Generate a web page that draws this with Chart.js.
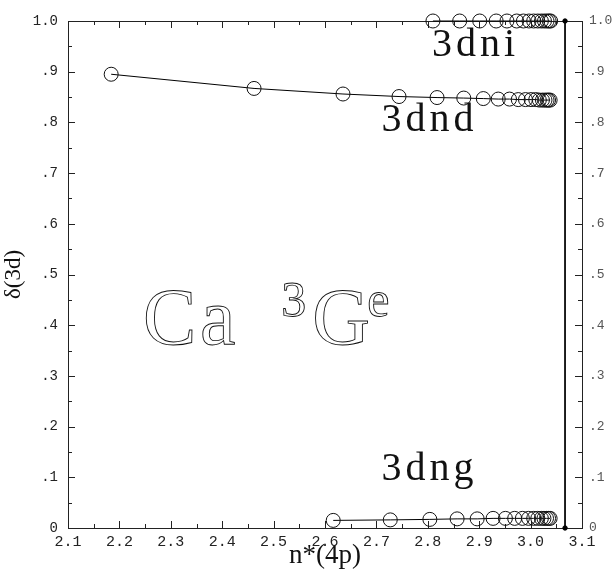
<!DOCTYPE html>
<html><head><meta charset="utf-8">
<script src="https://cdn.jsdelivr.net/npm/chart.js@4"></script>
<style>html,body{margin:0;padding:0;background:#fff}canvas{display:block}</style>
</head><body>
<canvas id="c" width="613" height="572"></canvas>
<script>
// ---- data ----
const niX = [2.810, 2.862, 2.901, 2.933, 2.954, 2.973, 2.986, 2.997, 3.006, 3.014, 3.021, 3.027, 3.032, 3.036, 3.039];
const niY = [1.0, 1.0, 1.0, 1.0, 1.0, 1.0, 1.0, 1.0, 1.0, 1.0, 1.0, 1.0, 1.0, 1.0, 1.0];
const ndX = [2.184, 2.462, 2.635, 2.744, 2.818, 2.870, 2.908, 2.937, 2.959, 2.976, 2.990, 3.001, 3.010, 3.017, 3.023, 3.028, 3.032, 3.035, 3.038];
const ndY = [0.895, 0.867, 0.856, 0.851, 0.849, 0.848, 0.847, 0.846, 0.846, 0.845, 0.845, 0.845, 0.845, 0.844, 0.844, 0.844, 0.844, 0.844, 0.844];
const ngX = [2.616, 2.727, 2.804, 2.857, 2.896, 2.927, 2.951, 2.969, 2.984, 2.996, 3.006, 3.014, 3.021, 3.026, 3.031, 3.035, 3.038];
const ngY = [0.015, 0.016, 0.017, 0.018, 0.018, 0.019, 0.019, 0.019, 0.019, 0.019, 0.019, 0.019, 0.019, 0.019, 0.019, 0.019, 0.019];
const limitX = [3.067, 3.067];
const limitY = [1.0, 0.0];
const xTicks = [2.1, 2.2, 2.3, 2.4, 2.5, 2.6, 2.7, 2.8, 2.9, 3.0, 3.1];
const yTickLabels = ['0', '.1', '.2', '.3', '.4', '.5', '.6', '.7', '.8', '.9', '1.0'];
const seriesNames = ['3dni', '3dnd', '3dng'];
// label anchors (data units): [x, baseline y]
const labelPos = [[2.808, 0.930], [2.710, 0.783], [2.710, 0.095]];
const xTitle = 'n*(4p)';
const yTitle = 'δ(3d)';

const pts = (xs, ys) => xs.map((x, i) => ({x, y: ys[i]}));
const circleSet = (name, xs, ys) => ({
  label: name, data: pts(xs, ys), showLine: true, clip: false,
  borderColor: '#000', borderWidth: 1,
  pointRadius: 7, pointHoverRadius: 7, pointStyle: 'circle',
  pointBackgroundColor: 'rgba(0,0,0,0)', pointBorderColor: '#111', pointBorderWidth: 1
});

const framePlugin = {
  id: 'frame',
  beforeDatasetsDraw(chart) {
    const {ctx, chartArea: a, scales: {x, y}} = chart;
    ctx.save();
    ctx.strokeStyle = '#222'; ctx.lineWidth = 1;
    ctx.strokeRect(a.left + 0.5, a.top + 0.5, a.right - a.left, a.bottom - a.top);
    ctx.beginPath();
    for (let i = 0; i <= 20; i++) {
      const v = i * 0.05, len = i % 2 ? 4 : 7;
      const py = Math.round(y.getPixelForValue(v)) + 0.5;
      ctx.moveTo(a.left, py); ctx.lineTo(a.left + len, py);
      ctx.moveTo(a.right, py); ctx.lineTo(a.right - len, py);
      const px = Math.round(x.getPixelForValue(2.1 + v)) + 0.5;
      ctx.moveTo(px, a.bottom); ctx.lineTo(px, a.bottom - len);
      ctx.moveTo(px, a.top); ctx.lineTo(px, a.top + len);
    }
    ctx.stroke();
    ctx.restore();
  },
  afterDatasetsDraw(chart) {
    const {ctx, scales: {x, y}} = chart;
    ctx.save();
    ctx.fillStyle = '#111';
    ctx.font = '40px "Liberation Serif"';
    ctx.letterSpacing = '4px';
    ctx.textBaseline = 'alphabetic';
    seriesNames.forEach((n, i) => {
      ctx.fillText(n, x.getPixelForValue(labelPos[i][0]), y.getPixelForValue(labelPos[i][1]));
    });
    // big outlined "Ca 3Ge"
    ctx.letterSpacing = '0px';
    ctx.lineWidth = 0.9; ctx.strokeStyle = '#111';
    ctx.font = '80px "Liberation Serif"';
    const by = y.getPixelForValue(0.362);
    ctx.strokeText('C', x.getPixelForValue(2.246), by);
    ctx.strokeText('a', x.getPixelForValue(2.357), by);
    ctx.strokeText('G', x.getPixelForValue(2.575), by);
    ctx.font = '50px "Liberation Serif"';
    const sy = y.getPixelForValue(0.418);
    ctx.strokeText('3', x.getPixelForValue(2.515), sy);
    ctx.strokeText('e', x.getPixelForValue(2.682), sy);
    ctx.restore();
  }
};

new Chart(document.getElementById('c'), {
  type: 'scatter',
  data: {
    datasets: [
      circleSet(seriesNames[0], niX, niY),
      circleSet(seriesNames[1], ndX, ndY),
      circleSet(seriesNames[2], ngX, ngY),
      {label: 'limit', data: pts(limitX, limitY), showLine: true, clip: false, borderColor: '#000', borderWidth: 1,
       pointRadius: 2.2, pointBackgroundColor: '#000', pointBorderColor: '#000'}
    ]
  },
  options: {
    responsive: false, animation: false,
    layout: {padding: {top: 21, left: 0, right: 0, bottom: 0}},
    plugins: {legend: {display: false}, tooltip: {enabled: false}},
    scales: {
      x: {
        type: 'linear', min: 2.1, max: 3.1, position: 'bottom',
        afterBuildTicks: s => { s.ticks = xTicks.map(v => ({value: v})); },
        grid: {display: false, drawTicks: false}, border: {display: false},
        ticks: {padding: 5, color: '#222', font: {family: '"Liberation Mono"', size: 15},
                callback: v => Number(v).toFixed(1), maxRotation: 0, autoSkip: false},
        title: {display: true, text: xTitle, color: '#111', font: {family: '"Liberation Serif"', size: 27}, padding: {top: 0, bottom: 0}},
        afterFit: s => { s.height = 44; }
      },
      y: {
        type: 'linear', min: 0, max: 1, position: 'left',
        afterBuildTicks: s => { s.ticks = yTickLabels.map((t, i) => ({value: i / 10})); },
        grid: {display: false, drawTicks: false}, border: {display: false},
        ticks: {padding: 10, color: '#222', font: {family: '"Liberation Mono"', size: 14},
                callback: (v, i) => yTickLabels[i], autoSkip: false},
        title: {display: true, text: yTitle, color: '#111', font: {family: '"Liberation Serif"', size: 23}, padding: {top: 0, bottom: 0}},
        afterFit: s => { s.width = 68; }
      },
      y2: {
        type: 'linear', min: 0, max: 1, position: 'right',
        afterBuildTicks: s => { s.ticks = yTickLabels.map((t, i) => ({value: i / 10})); },
        grid: {display: false, drawTicks: false}, border: {display: false},
        ticks: {padding: 7, color: '#555', font: {family: '"Liberation Mono"', size: 13},
                callback: (v, i) => yTickLabels[i], autoSkip: false},
        afterFit: s => { s.width = 31; }
      }
    }
  },
  plugins: [framePlugin]
});
</script>
</body></html>
